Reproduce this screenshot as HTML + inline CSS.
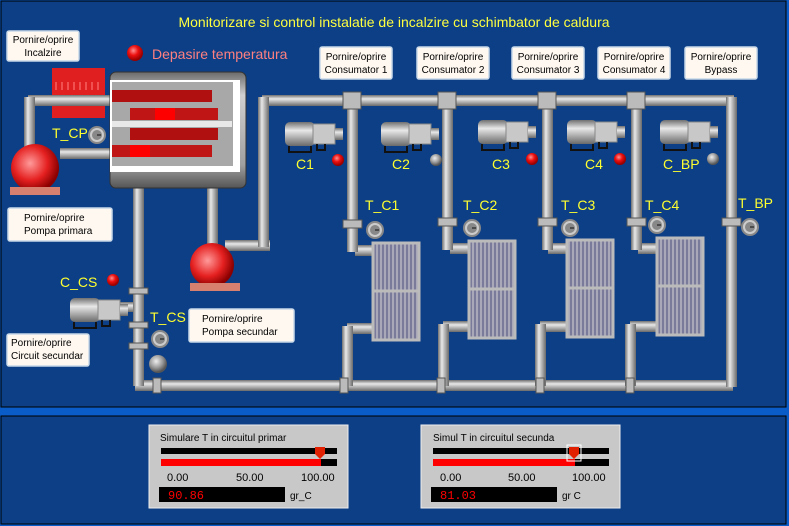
<!DOCTYPE html>
<html><head><meta charset="utf-8"><style>
body{margin:0;background:#0c3f85;}
svg{display:block;font-family:"Liberation Sans",sans-serif;}
</style></head><body>
<svg width="789" height="526" viewBox="0 0 789 526" xmlns="http://www.w3.org/2000/svg">
<defs>
<linearGradient id="ph" x1="0" y1="0" x2="0" y2="1"><stop offset="0" stop-color="#707070"/><stop offset=".35" stop-color="#e8e8e8"/><stop offset="1" stop-color="#6a6a6a"/></linearGradient>
<linearGradient id="pv" x1="0" y1="0" x2="1" y2="0"><stop offset="0" stop-color="#707070"/><stop offset=".35" stop-color="#e8e8e8"/><stop offset="1" stop-color="#6a6a6a"/></linearGradient>
<linearGradient id="bo" x1="0" y1="0" x2="0" y2="1"><stop offset="0" stop-color="#6a6a6a"/><stop offset=".2" stop-color="#d0d0d0"/><stop offset=".8" stop-color="#a0a0a0"/><stop offset="1" stop-color="#555"/></linearGradient>
<radialGradient id="rb" cx=".4" cy=".35" r=".6"><stop offset="0" stop-color="#ff9090"/><stop offset=".5" stop-color="#ee1010"/><stop offset="1" stop-color="#900"/></radialGradient>
<radialGradient id="gb" cx=".4" cy=".35" r=".6"><stop offset="0" stop-color="#eee"/><stop offset=".6" stop-color="#999"/><stop offset="1" stop-color="#555"/></radialGradient>
<radialGradient id="pump" cx=".4" cy=".4" r=".6"><stop offset="0" stop-color="#ff9a9a"/><stop offset=".6" stop-color="#e52020"/><stop offset="1" stop-color="#8a0000"/></radialGradient>
<pattern id="rad" width="4" height="10" patternUnits="userSpaceOnUse"><rect width="4" height="10" fill="#7a7a9a"/><rect width="2" height="10" fill="#a8a8b8"/></pattern>
<g id="motor"><rect x="0" y="0" width="30" height="24" rx="5" fill="url(#ph)"/><rect x="28" y="2" width="22" height="20" fill="#c8c8c8" stroke="#888"/><rect x="50" y="6" width="8" height="12" fill="url(#ph)"/><path d="M4 24v6h22v-6M32 22v6h8v-6" stroke="#111" stroke-width="2" fill="none"/></g>
<g id="gauge"><circle r="8" fill="#ccc" stroke="#888" stroke-width="2"/><circle r="5" fill="#888"/><line x1="0" y1="0" x2="4" y2="0" stroke="#111"/></g>
</defs>
<rect width="789" height="526" fill="#0a5cc8"/>
<rect x="1" y="1" width="785" height="406" fill="#0c3f85" stroke="#000"/>
<rect x="1" y="416" width="785" height="108" fill="#0c3f85" stroke="#000"/>
<text x="394" y="27" fill="#ffff40" font-size="14" text-anchor="middle">Monitorizare si control instalatie de incalzire cu schimbator de caldura</text>

<!-- heater block -->
<rect x="52" y="68" width="53" height="50" fill="#e02020"/>
<g stroke="#ff8080" stroke-width="1"><path d="M56 82v8M62 82v8M68 82v8M74 82v8M80 82v8M86 82v8M92 82v8M98 82v8"/></g>
<!-- pipes horizontal -->
<g fill="url(#ph)">
<rect x="262" y="95" width="472" height="11"/>
<rect x="135" y="380" width="598" height="11"/>
<rect x="28" y="95" width="82" height="11"/>
<rect x="60" y="148" width="50" height="11"/>
<rect x="355" y="245" width="20" height="11"/><rect x="450" y="243" width="20" height="11"/><rect x="548" y="243" width="20" height="11"/><rect x="638" y="243" width="20" height="11"/>
<rect x="347" y="323" width="27" height="11"/><rect x="443" y="321" width="27" height="11"/><rect x="540" y="321" width="27" height="11"/><rect x="630" y="321" width="27" height="11"/>
<rect x="225" y="240" width="45" height="11"/>
<rect x="110" y="302" width="28" height="10"/>
</g>
<g fill="url(#pv)">
<rect x="258" y="97" width="11" height="150"/>
<rect x="726" y="97" width="11" height="290"/>
<rect x="347" y="97" width="11" height="155"/><rect x="442" y="97" width="11" height="153"/><rect x="542" y="97" width="11" height="153"/><rect x="631" y="97" width="11" height="153"/>
<rect x="342" y="326" width="11" height="60"/><rect x="438" y="324" width="11" height="62"/><rect x="535" y="324" width="11" height="62"/><rect x="625" y="324" width="11" height="62"/>
<rect x="133" y="186" width="11" height="200"/>
<rect x="207" y="186" width="11" height="60"/>
<rect x="24" y="97" width="11" height="60"/>
</g>
<!-- fittings -->
<g fill="#bbb" stroke="#555" stroke-width="1">
<rect x="343" y="92" width="18" height="17"/><rect x="438" y="92" width="18" height="17"/><rect x="538" y="92" width="18" height="17"/><rect x="627" y="92" width="18" height="17"/>
<rect x="343" y="220" width="19" height="8"/><rect x="438" y="218" width="19" height="8"/><rect x="538" y="218" width="19" height="8"/><rect x="627" y="218" width="19" height="8"/><rect x="722" y="218" width="19" height="8"/>
<rect x="129" y="288" width="19" height="6"/><rect x="129" y="322" width="19" height="6"/><rect x="129" y="343" width="19" height="6"/>
<rect x="153" y="378" width="8" height="15"/><rect x="340" y="378" width="8" height="15"/><rect x="437" y="378" width="8" height="15"/><rect x="536" y="378" width="8" height="15"/><rect x="626" y="378" width="8" height="15"/>
</g>
<!-- gauges -->
<use href="#gauge" x="97" y="135"/><use href="#gauge" x="375" y="230"/><use href="#gauge" x="472" y="228"/><use href="#gauge" x="570" y="228"/><use href="#gauge" x="657" y="225"/><use href="#gauge" x="750" y="227"/><use href="#gauge" x="160" y="339"/>
<!-- radiators -->
<g stroke="#bbb" stroke-width="3">
<rect x="373" y="243" width="46" height="97" fill="url(#rad)"/>
<rect x="469" y="241" width="46" height="97" fill="url(#rad)"/>
<rect x="567" y="240" width="46" height="97" fill="url(#rad)"/>
<rect x="657" y="238" width="46" height="97" fill="url(#rad)"/>
<line x1="373" y1="291" x2="419" y2="291"/><line x1="469" y1="289" x2="515" y2="289"/><line x1="567" y1="288" x2="613" y2="288"/><line x1="657" y1="286" x2="703" y2="286"/>
</g>
<!-- boiler -->
<rect x="110" y="72" width="136" height="116" rx="6" fill="url(#bo)" stroke="#333"/>
<rect x="110" y="80" width="130" height="92" fill="#fff"/>
<rect x="112" y="82" width="121" height="84" fill="#a8a8a8"/>
<rect x="112" y="90" width="100" height="12" fill="#b01010"/><rect x="130" y="108" width="88" height="12" fill="#c01515"/><rect x="112" y="121" width="120" height="6" fill="#e8e8e8"/><rect x="130" y="128" width="88" height="12" fill="#b01010"/><rect x="112" y="145" width="100" height="12" fill="#c01515"/>
<rect x="155" y="108" width="20" height="12" fill="#f00"/><rect x="130" y="145" width="20" height="12" fill="#f00"/>
<!-- pumps -->
<circle cx="35" cy="168" r="24" fill="url(#pump)"/><rect x="10" y="187" width="50" height="8" fill="#d88070"/>
<circle cx="212" cy="265" r="22" fill="url(#pump)"/><rect x="190" y="283" width="50" height="8" fill="#d88070"/>
<!-- motors -->
<use href="#motor" x="285" y="122"/><use href="#motor" x="381" y="122"/><use href="#motor" x="478" y="120"/><use href="#motor" x="567" y="120"/><use href="#motor" x="660" y="120"/><use href="#motor" x="70" y="298"/>
<!-- indicators -->
<circle cx="135" cy="53" r="8" fill="url(#rb)"/>
<circle cx="338" cy="160" r="6" fill="url(#rb)"/><circle cx="436" cy="160" r="6" fill="url(#gb)"/><circle cx="532" cy="159" r="6" fill="url(#rb)"/><circle cx="620" cy="159" r="6" fill="url(#rb)"/><circle cx="713" cy="159" r="6" fill="url(#gb)"/>
<circle cx="113" cy="280" r="6" fill="url(#rb)"/><circle cx="158" cy="364" r="9" fill="url(#gb)"/>
<text x="152" y="59" fill="#ff8080" font-size="14">Depasire temperatura</text>
<g fill="#ffff30" font-size="14">
<text x="52" y="138">T_CP</text><text x="296" y="169">C1</text><text x="392" y="169">C2</text><text x="492" y="169">C3</text><text x="585" y="169">C4</text><text x="663" y="169">C_BP</text>
<text x="365" y="210">T_C1</text><text x="463" y="210">T_C2</text><text x="561" y="210">T_C3</text><text x="645" y="210">T_C4</text><text x="738" y="208">T_BP</text>
<text x="60" y="287">C_CS</text><text x="150" y="322">T_CS</text>
</g>
<!-- buttons -->
<g fill="#fff8f0" stroke="#c8d8e8" stroke-width="1.5">
<rect x="7" y="31" width="72" height="30" rx="2"/><rect x="320" y="47" width="72" height="32" rx="2"/><rect x="417" y="47" width="72" height="32" rx="2"/><rect x="512" y="47" width="72" height="32" rx="2"/><rect x="598" y="47" width="72" height="32" rx="2"/><rect x="685" y="47" width="72" height="32" rx="2"/>
<rect x="8" y="208" width="104" height="33" rx="2"/><rect x="189" y="309" width="105" height="33" rx="2"/><rect x="7" y="334" width="82" height="32" rx="2"/>
</g>
<g fill="#000" font-size="10" text-anchor="middle">
<text x="43" y="43">Pornire/oprire</text><text x="43" y="56">Incalzire</text>
<text x="356" y="60">Pornire/oprire</text><text x="356" y="73">Consumator 1</text>
<text x="453" y="60">Pornire/oprire</text><text x="453" y="73">Consumator 2</text>
<text x="548" y="60">Pornire/oprire</text><text x="548" y="73">Consumator 3</text>
<text x="634" y="60">Pornire/oprire</text><text x="634" y="73">Consumator 4</text>
<text x="721" y="60">Pornire/oprire</text><text x="721" y="73">Bypass</text>
</g>
<g fill="#000" font-size="10">
<text x="24" y="221">Pornire/oprire</text><text x="24" y="234">Pompa primara</text>
<text x="202" y="322">Pornire/oprire</text><text x="202" y="335">Pompa secundar</text>
<text x="11" y="346">Pornire/oprire</text><text x="11" y="359">Circuit secundar</text>
</g>
<!-- sliders -->
<g>
<rect x="149" y="425" width="199" height="83" fill="#c8c8c8" stroke="#eee"/>
<text x="160" y="441" font-size="10">Simulare T in circuitul primar</text>
<rect x="161" y="448" width="176" height="6" fill="#000"/><rect x="161" y="459" width="176" height="7" fill="#000"/><rect x="161" y="459" width="160" height="7" fill="#f00"/>
<path d="M315 447h10v7l-5 5l-5-5z" fill="#e02000"/>
<g font-size="11"><text x="167" y="481">0.00</text><text x="236" y="481">50.00</text><text x="301" y="481">100.00</text></g>
<rect x="159" y="487" width="126" height="15" fill="#000"/><text x="168" y="499" fill="#f00" font-size="12" font-family="Liberation Mono,monospace">90.86</text><text x="290" y="499" font-size="10">gr_C</text>
</g>
<g>
<rect x="421" y="425" width="199" height="83" fill="#c8c8c8" stroke="#eee"/>
<text x="433" y="441" font-size="10">Simul T in circuitul secunda</text>
<rect x="433" y="448" width="176" height="6" fill="#000"/><rect x="433" y="459" width="176" height="7" fill="#000"/><rect x="433" y="459" width="142" height="7" fill="#f00"/>
<rect x="567" y="445" width="14" height="16" fill="none" stroke="#fff"/>
<path d="M569 447h10v7l-5 5l-5-5z" fill="#e02000"/>
<g font-size="11"><text x="440" y="481">0.00</text><text x="508" y="481">50.00</text><text x="572" y="481">100.00</text></g>
<rect x="431" y="487" width="126" height="15" fill="#000"/><text x="440" y="499" fill="#f00" font-size="12" font-family="Liberation Mono,monospace">81.03</text><text x="562" y="499" font-size="10">gr C</text>
</g>
</svg>
</body></html>
